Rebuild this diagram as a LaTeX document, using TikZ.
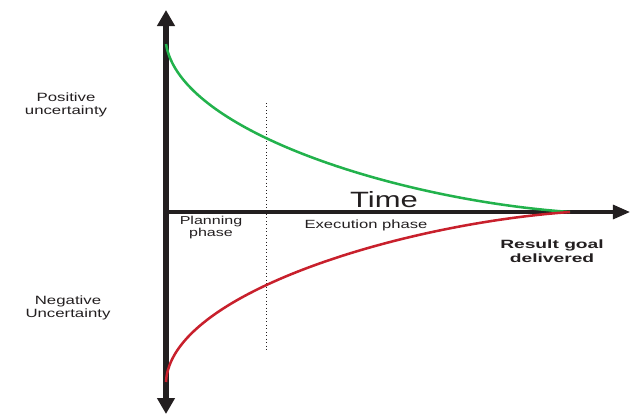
\documentclass[tikz,border=0pt]{standalone}
\usepackage{fontspec}
\setmainfont{Liberation Sans}[FakeStretch=1.4]
\newfontfamily\boldwide{Liberation Sans}[FakeStretch=1.6]
\usetikzlibrary{arrows.meta}
\definecolor{cgreen}{RGB}{34,178,76}
\definecolor{cred}{RGB}{200,32,44}
\definecolor{caxis}{RGB}{35,31,32}
\begin{document}
\begin{tikzpicture}[x=0.75pt,y=-0.75pt,
  lbl/.style={font=\fontsize{9}{9.8}\selectfont,text=caxis,align=center,inner sep=0pt},
  small/.style={font=\fontsize{8.6}{9.4}\selectfont,text=caxis,align=center,inner sep=0pt}]
\useasboundingbox (0,0) rectangle (630,415);
\coordinate (vtop) at (166,10);
\coordinate (vbot) at (166,414);
\coordinate (orig) at (166,212);
\coordinate (hend) at (630,212);
\coordinate (dtop) at (266,103);
\coordinate (dbot) at (266,350);
\coordinate (gs) at (166,44);
\coordinate (rs) at (166,382);
\coordinate (goal) at (570,212);
\draw[caxis,line width=3.8pt,-{Triangle[width=12.8pt,length=12pt]}] (orig) -- (vtop);
\draw[caxis,line width=3.8pt,-{Triangle[width=12.8pt,length=12pt]}] (orig) -- (vbot);
\draw[caxis,line width=2.4pt,-{Triangle[width=10.5pt,length=12.8pt]}] (orig) -- (hend);
\draw[caxis,line width=0.6pt,dotted] (dtop) -- (dbot);
\draw[cgreen,line width=1.9pt] (gs) .. controls (180,132) and (400,200) .. (goal);
\draw[cred,line width=1.9pt] (rs) .. controls (170,294) and (400,224) .. (goal);
\node[lbl] (pos) at (66,105) {Positive\\uncertainty};
\node[lbl] (neg) at (68,308) {Negative\\Uncertainty};
\node[font=\fontsize{16.6}{18}\selectfont,text=caxis,inner sep=0pt,anchor=base] (time) at (384,207) {Time};
\node[small] (plan) at (211,227.5) {Planning\\phase};
\node[lbl,font=\fontsize{8.9}{9.8}\selectfont] (exec) at (366,225) {Execution phase};
\node[lbl,font=\boldwide\bfseries\fontsize{9}{10.5}\selectfont] (res) at (552,251) {Result goal\\delivered};
\end{tikzpicture}
\end{document}
